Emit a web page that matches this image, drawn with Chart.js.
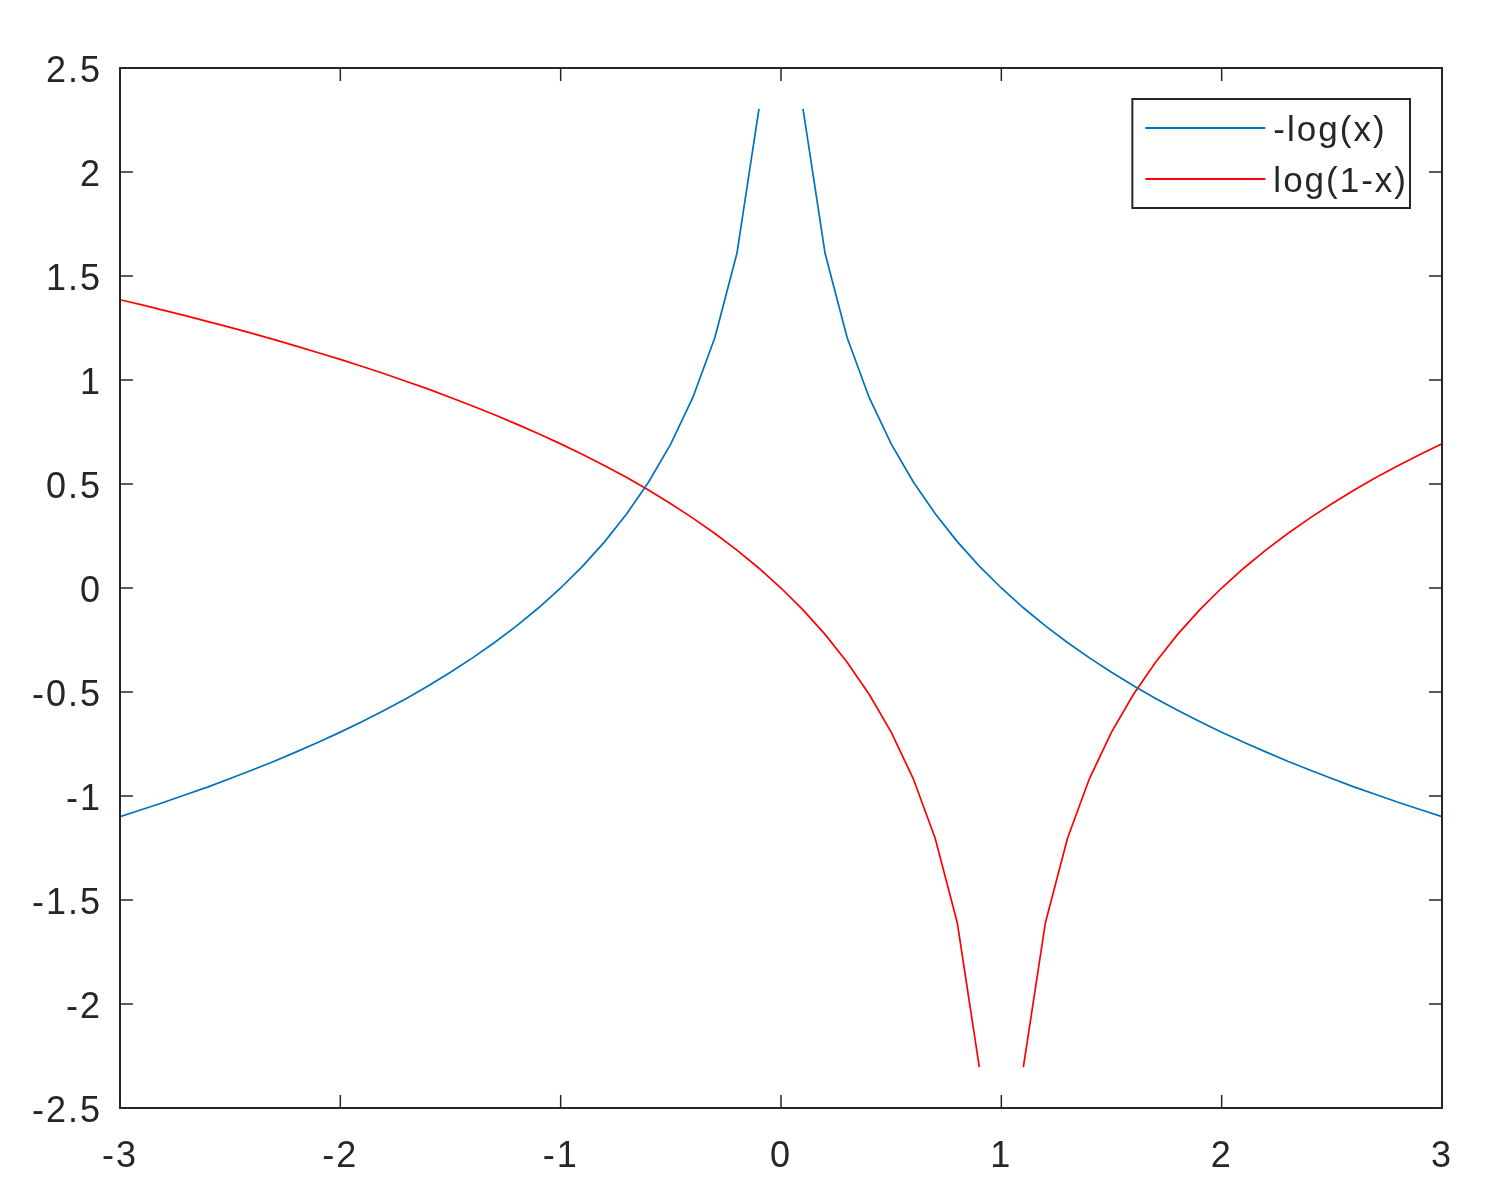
<!DOCTYPE html>
<html>
<head>
<meta charset="utf-8">
<script src="https://cdn.jsdelivr.net/npm/chart.js@4/dist/chart.umd.min.js"></script>
<style>
  html, body { margin: 0; padding: 0; background: #fff; }
  #wrap { width: 1486px; height: 1198px; }
</style>
</head>
<body>
<div id="wrap"><canvas id="grafico"></canvas></div>
<script>
// x de -3 a 3, passo 0.1
var xs = [
    -3.0, -2.9, -2.8, -2.7, -2.6, -2.5, -2.4, -2.3, -2.2, -2.1,
    -2.0, -1.9, -1.8, -1.7, -1.6, -1.5, -1.4, -1.3, -1.2, -1.1,
    -1.0, -0.9, -0.8, -0.7, -0.6, -0.5, -0.4, -0.3, -0.2, -0.1,
    0.0,
    0.1, 0.2, 0.3, 0.4, 0.5, 0.6, 0.7, 0.8, 0.9, 1.0,
    1.1, 1.2, 1.3, 1.4, 1.5, 1.6, 1.7, 1.8, 1.9, 2.0,
    2.1, 2.2, 2.3, 2.4, 2.5, 2.6, 2.7, 2.8, 2.9, 3.0
];

var menosLogX = [
    -1.099, -1.065, -1.030, -0.993, -0.956, -0.916, -0.875, -0.833, -0.788, -0.742,
    -0.693, -0.642, -0.588, -0.531, -0.470, -0.405, -0.336, -0.262, -0.182, -0.095,
    0.000, 0.105, 0.223, 0.357, 0.511, 0.693, 0.916, 1.204, 1.609, 2.303,
    null,
    2.303, 1.609, 1.204, 0.916, 0.693, 0.511, 0.357, 0.223, 0.105, 0.000,
    -0.095, -0.182, -0.262, -0.336, -0.405, -0.470, -0.531, -0.588, -0.642, -0.693,
    -0.742, -0.788, -0.833, -0.875, -0.916, -0.956, -0.993, -1.030, -1.065, -1.099
];

var log1MenosX = [
    1.386, 1.361, 1.335, 1.308, 1.281, 1.253, 1.224, 1.194, 1.163, 1.131,
    1.099, 1.065, 1.030, 0.993, 0.956, 0.916, 0.875, 0.833, 0.788, 0.742,
    0.693, 0.642, 0.588, 0.531, 0.470, 0.405, 0.336, 0.262, 0.182, 0.095,
    0.000,
    -0.105, -0.223, -0.357, -0.511, -0.693, -0.916, -1.204, -1.609, -2.303, null,
    -2.303, -1.609, -1.204, -0.916, -0.693, -0.511, -0.357, -0.223, -0.105, 0.000,
    0.095, 0.182, 0.262, 0.336, 0.405, 0.470, 0.531, 0.588, 0.642, 0.693
];

var ticksX = [-3, -2, -1, 0, 1, 2, 3];
var ticksY = [-2.5, -2, -1.5, -1, -0.5, 0, 0.5, 1, 1.5, 2, 2.5];

var nomes = ['-log(x)', 'log(1-x)'];
var cores = ['#0072BD', '#FF0000'];

var corEixo = '#262626';
var fonte = '"Liberation Sans", Arial, sans-serif';

function pontos(ys) {
    var arr = [];
    for (let i = 0; i < xs.length; i++) {
        arr.push({ x: xs[i], y: ys[i] });
    }
    return arr;
}

// espacamento das letras parecido com o do matlab
var espacoPlugin = {
    id: 'espaco',
    beforeDraw: function (chart) {
        chart.ctx.letterSpacing = '2px';
    }
};

// caixa, tracinhos internos e legenda no estilo matlab
var caixaPlugin = {
    id: 'caixa',
    afterDatasetsDraw: function (chart) {
        var ctx = chart.ctx;
        var a = chart.chartArea;
        var sx = chart.scales.x;
        var sy = chart.scales.y;
        var tam = 13;

        ctx.save();
        ctx.strokeStyle = corEixo;
        ctx.lineWidth = 2;
        ctx.strokeRect(a.left, a.top, a.right - a.left, a.bottom - a.top);

        ctx.lineWidth = 1.5;
        ctx.beginPath();
        for (let i = 0; i < ticksX.length; i++) {
            var px = sx.getPixelForValue(ticksX[i]);
            ctx.moveTo(px, a.bottom);
            ctx.lineTo(px, a.bottom - tam);
            ctx.moveTo(px, a.top);
            ctx.lineTo(px, a.top + tam);
        }
        for (let i = 0; i < ticksY.length; i++) {
            var py = sy.getPixelForValue(ticksY[i]);
            ctx.moveTo(a.left, py);
            ctx.lineTo(a.left + tam, py);
            ctx.moveTo(a.right, py);
            ctx.lineTo(a.right - tam, py);
        }
        ctx.stroke();

        // legenda
        ctx.font = '35px ' + fonte;
        ctx.letterSpacing = '2px';
        var maior = 0;
        for (let i = 0; i < nomes.length; i++) {
            maior = Math.max(maior, ctx.measureText(nomes[i]).width);
        }
        var larguraLinha = 120;
        var w = 13 + larguraLinha + 8 + maior + 2;
        var h = 109;
        var x0 = a.right - 32 - w;
        var y0 = a.top + 31;

        ctx.fillStyle = '#fff';
        ctx.fillRect(x0, y0, w, h);
        ctx.strokeStyle = corEixo;
        ctx.lineWidth = 2;
        ctx.strokeRect(x0, y0, w, h);

        ctx.textBaseline = 'middle';
        ctx.textAlign = 'left';
        for (let i = 0; i < nomes.length; i++) {
            var ly = y0 + 29 + i * 51;
            ctx.strokeStyle = cores[i];
            ctx.lineWidth = 2;
            ctx.beginPath();
            ctx.moveTo(x0 + 13, ly);
            ctx.lineTo(x0 + 13 + larguraLinha, ly);
            ctx.stroke();
            ctx.fillStyle = corEixo;
            ctx.fillText(nomes[i], x0 + 13 + larguraLinha + 8, ly + 3);
        }
        ctx.restore();
    }
};

var grafico = new Chart(document.getElementById('grafico'), {
    type: 'line',
    data: {
        datasets: [{
            label: nomes[0],
            data: pontos(menosLogX),
            borderColor: cores[0],
            borderWidth: 1.7,
            pointRadius: 0,
            tension: 0,
            fill: false
        }, {
            label: nomes[1],
            data: pontos(log1MenosX),
            borderColor: cores[1],
            borderWidth: 1.7,
            pointRadius: 0,
            tension: 0,
            fill: false
        }]
    },
    options: {
        responsive: true,
        maintainAspectRatio: false,
        animation: false,
        layout: {
            padding: { left: 0, top: 68, right: 44, bottom: 0 }
        },
        plugins: {
            legend: { display: false },
            tooltip: { enabled: false }
        },
        scales: {
            x: {
                type: 'linear',
                min: -3,
                max: 3,
                afterBuildTicks: function (s) {
                    s.ticks = ticksX.map(function (v) { return { value: v }; });
                },
                afterFit: function (s) { s.height = 90; },
                grid: { display: false, drawTicks: false },
                border: { display: false },
                ticks: {
                    padding: 27,
                    color: corEixo,
                    maxRotation: 0,
                    font: { size: 36, family: fonte },
                    callback: function (v) { return String(v); }
                }
            },
            y: {
                min: -2.5,
                max: 2.5,
                afterBuildTicks: function (s) {
                    s.ticks = ticksY.map(function (v) { return { value: v }; });
                },
                afterFit: function (s) { s.width = 120; },
                grid: { display: false, drawTicks: false },
                border: { display: false },
                ticks: {
                    padding: 18,
                    labelOffset: 4,
                    color: corEixo,
                    font: { size: 36, family: fonte },
                    callback: function (v) { return String(v); }
                }
            }
        }
    },
    plugins: [espacoPlugin, caixaPlugin]
});
</script>
</body>
</html>
